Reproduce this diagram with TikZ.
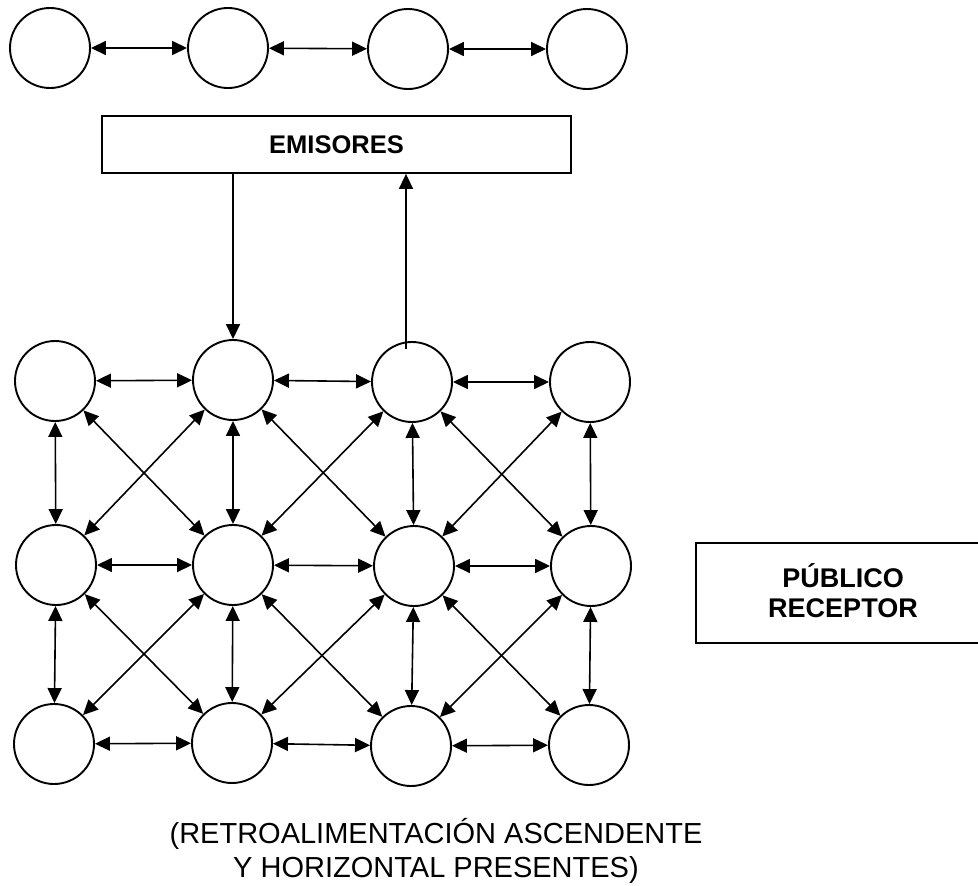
\documentclass[tikz,border=0pt]{standalone}
\usepackage{fontspec}
\setmainfont{Liberation Sans}
\usetikzlibrary{arrows.meta}
\begin{document}
\begin{tikzpicture}[x=1pt,y=-1pt,
  ball/.style={circle,draw,line width=1.9pt,minimum size=80pt,inner sep=0pt},
  dbl/.style={{Triangle[length=15pt,width=14pt]}-{Triangle[length=15pt,width=14pt]},line width=1.6pt},
  one/.style={-{Triangle[length=15pt,width=14pt]},line width=1.6pt},
  labelbox/.style={draw,line width=1.8pt,inner sep=0pt},
  captext/.style={font=\fontsize{29}{35}\selectfont,anchor=base,inner sep=0pt}]
\useasboundingbox (0,0) rectangle (978,886);
% top row
\node[ball] (t1) at (50,48) {};
\node[ball] (t2) at (228,48) {};
\node[ball] (t3) at (408,49) {};
\node[ball] (t4) at (587,49) {};
\draw[dbl] (t1) -- (t2);
\draw[dbl] (t2) -- (t3);
\draw[dbl] (t3) -- (t4);
% emisores
\node[labelbox,minimum width=469pt,minimum height=57pt,font=\bfseries\fontsize{25.5}{30}\selectfont] (emi) at (336.5,144.5) {EMISORES};
% grid
\node[ball] (r11) at (55,381) {};
\node[ball] (r12) at (233,380) {};
\node[ball] (r13) at (412,382) {};
\node[ball] (r14) at (590,382) {};
\node[ball] (r21) at (56,565) {};
\node[ball] (r22) at (233,565) {};
\node[ball] (r23) at (414,566) {};
\node[ball] (r24) at (591,566) {};
\node[ball] (r31) at (54,744) {};
\node[ball] (r32) at (232,743) {};
\node[ball] (r33) at (411,746) {};
\node[ball] (r34) at (589,745) {};
% horizontal
\foreach \r in {1,2,3}{
  \draw[dbl] (r\r1) -- (r\r2);
  \draw[dbl] (r\r2) -- (r\r3);
  \draw[dbl] (r\r3) -- (r\r4);
}
% vertical
\foreach \c in {1,2,3,4}{
  \draw[dbl] (r1\c) -- (r2\c);
  \draw[dbl] (r2\c) -- (r3\c);
}
% diagonals
\foreach \a/\b in {1/2,2/3}{
  \draw[dbl] (r\a1) -- (r\b2);
  \draw[dbl] (r\a2) -- (r\b1);
  \draw[dbl] (r\a2) -- (r\b3);
  \draw[dbl] (r\a3) -- (r\b2);
  \draw[dbl] (r\a3) -- (r\b4);
  \draw[dbl] (r\a4) -- (r\b3);
}
% emisores links
\draw[one] (emi.south -| r12) -- (r12);
\coordinate (upstart) at (406,349);
\draw[one] (upstart) -- (upstart |- emi.south);
% publico receptor
\node[labelbox,minimum width=294pt,minimum height=100pt] (pub) at (843,593) {};
\node[align=center,inner sep=0pt,font=\bfseries\fontsize{27}{30}\selectfont] (pubtxt) at (843,591) {PÚBLICO\\RECEPTOR};
% caption
\node[captext] (cap1) at (436,843) {(RETROALIMENTACIÓN ASCENDENTE};
\node[captext] (cap2) at (436,877) {Y HORIZONTAL PRESENTES)};
\end{tikzpicture}
\end{document}
